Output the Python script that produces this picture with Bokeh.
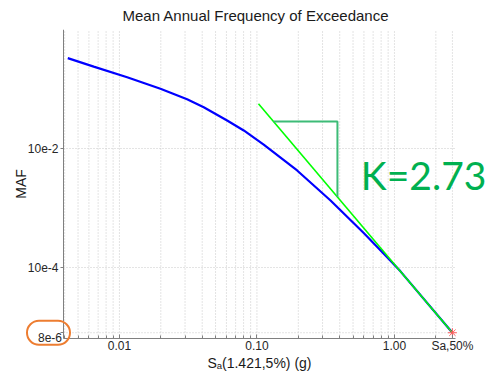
import math
from bokeh.plotting import figure
from bokeh.models import FixedTicker, Label
from bokeh.embed import file_html
from bokeh.resources import INLINE

# ---- data ----
sa_vals = [0.00421, 0.0065, 0.01138, 0.01987, 0.03105, 0.04103, 0.0607, 0.0802,
           0.112, 0.196, 0.343, 0.598, 0.885, 1.106, 2.64]
maf_vals = [0.330, 0.238, 0.158, 0.1007, 0.0672, 0.0494, 0.0296, 0.0201,
            0.0116, 0.00427, 0.001337, 3.8e-4, 1.49e-4, 8.6e-5, 8e-6]

SA50 = 2.64          # Sa,50%
MAF50 = 8e-6         # MAF at Sa,50%
K = 2.73             # slope of the tangent
tangent_sa = [0.1026, SA50]
triangle_sa = [0.132, 0.385]

x_major = [0.01, 0.1, 1.0, SA50]
x_labels = ["0.01", "0.10", "1.00", "Sa,50%"]
y_major = [MAF50, 1e-4, 1e-2]
y_labels = ["", "10e-4", "10e-2"]


def tangent(s):
    return MAF50 * (SA50 / s) ** K


# visible axes box
x_start, x_end = 0.00392, 2.78
y_start, y_end = 6.4e-6, 1.0

# ---- layout: the frame covers the whole area so that annotations outside the
# axes box (slope text, circled tick value) are not clipped ----
W, H = 488, 379
LEFT, TOP = 10, 29                # frame offsets in the canvas
BOX_L, BOX_R = 63, 455            # axes box, canvas px
BOX_T, BOX_B = 29, 338

dx = (math.log10(x_end) - math.log10(x_start)) / (BOX_R - BOX_L)   # decades per px
dy = (math.log10(y_end) - math.log10(y_start)) / (BOX_B - BOX_T)
fx_lo = 10 ** (math.log10(x_start) - (BOX_L - LEFT) * dx)
fx_hi = 10 ** (math.log10(x_end) + (W - BOX_R) * dx)
fy_lo = 10 ** (math.log10(y_start) - (H - BOX_B) * dy)
fy_hi = y_end

p = figure(width=W, height=H, x_axis_type="log", y_axis_type="log",
           x_range=(fx_lo, fx_hi), y_range=(fy_lo, fy_hi),
           output_backend="svg", toolbar_location=None,
           min_border_left=LEFT, min_border_right=0,
           min_border_top=TOP, min_border_bottom=0,
           title="Mean Annual Frequency of Exceedance")
p.outline_line_color = None
p.background_fill_color = "white"
p.border_fill_color = "white"
p.xgrid.visible = False
p.ygrid.visible = False

p.title.align = "left"
p.title.offset = 112
p.title.vertical_align = "middle"
p.title.text_font = "Liberation Sans"
p.title.text_font_size = "15px"
p.title.text_font_style = "normal"
p.title.text_color = "#1a1a1a"

# ticks
minor = [m * d for d in (0.001, 0.01, 0.1) for m in range(2, 10)] + [2.0]
minor = [v for v in minor if x_start <= v <= x_end]
p.xaxis.ticker = FixedTicker(ticks=x_major, minor_ticks=minor)
p.yaxis.ticker = FixedTicker(ticks=y_major)
p.xaxis.major_label_overrides = {v: t for v, t in zip(x_major, x_labels)}
p.yaxis.major_label_overrides = {v: t for v, t in zip(y_major, y_labels)}

p.xaxis.fixed_location = y_start
p.xaxis.bounds = (x_start, x_end)
p.yaxis.fixed_location = x_start
p.yaxis.bounds = (y_start, y_end)

for ax in (p.xaxis[0], p.yaxis[0]):
    ax.axis_line_color = "#808080"
    ax.major_tick_line_color = "#808080"
    ax.minor_tick_line_color = "#808080"
    ax.major_label_text_font = "Liberation Sans"
    ax.major_label_text_font_size = "12px"
    ax.major_label_text_color = "#262626"
    ax.axis_label_text_font = "Liberation Sans"
    ax.axis_label_text_font_size = "14px"
    ax.axis_label_text_font_style = "normal"
    ax.axis_label_text_color = "#1a1a1a"

p.xaxis.major_tick_in = 4
p.xaxis.major_tick_out = 0
p.xaxis.minor_tick_in = 3
p.xaxis.minor_tick_out = 0
p.xaxis.major_label_standoff = 0
p.xaxis.axis_label_standoff = -1
p.xaxis.axis_label = "Sₐ(1.421,5%) (g)"

p.yaxis.major_tick_in = 0
p.yaxis.major_tick_out = 3
p.yaxis.major_label_standoff = 2
p.yaxis.axis_label_standoff = -4
p.yaxis.axis_label = "MAF"

# dotted grid, limited to the axes box
grid_x = x_major + minor
p.segment(x0=grid_x, y0=[y_start] * len(grid_x), x1=grid_x, y1=[y_end] * len(grid_x),
          line_color="#c8c8c8", line_width=1, line_dash="1 2")
p.segment(x0=[x_start] * len(y_major), y0=y_major, x1=[x_end] * len(y_major), y1=y_major,
          line_color="#c8c8c8", line_width=1, line_dash="1 2")

# curves
p.line(sa_vals, maf_vals, line_color="#0000ff", line_width=2.2)
p.line(tangent_sa, [tangent(s) for s in tangent_sa], line_color="#00ff00", line_width=1.6)

tri_x = [triangle_sa[0], triangle_sa[1], triangle_sa[1]]
tri_y = [tangent(triangle_sa[0]), tangent(triangle_sa[0]), tangent(triangle_sa[1])]
p.line(tri_x, tri_y, line_color="#3dbb77", line_width=2)

p.scatter([SA50], [MAF50], marker="asterisk", size=9, line_color="#ff5c5c", line_width=1)

# slope annotation
p.add_layout(Label(x=0.57, y=0.00365, text="K=2.73", text_font="Lato",
                   text_font_size="39px", text_color="#00b050",
                   text_baseline="alphabetic", text_align="left"))

# circled tick value
p.add_layout(Label(x=x_start, y=MAF50, x_offset=-15, y_offset=0, text="8e-6",
                   text_font="Liberation Sans", text_font_size="12px",
                   text_color="#262626", text_align="center", text_baseline="middle",
                   border_line_color="#ed7d31", border_line_width=2,
                   border_radius=15, padding=(11, 8, 12, 3)))

open("out.html", "w").write(file_html(p, INLINE))
